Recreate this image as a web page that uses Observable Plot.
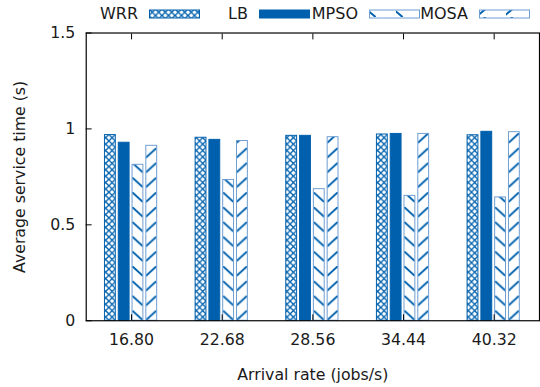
<!DOCTYPE html>
<html><head><meta charset="utf-8">
<script src="https://cdn.jsdelivr.net/npm/d3@7"></script>
<script src="https://cdn.jsdelivr.net/npm/@observablehq/plot@0.6"></script>
<style>
html,body{margin:0;padding:0;background:#fff;overflow:hidden;width:540px;height:387px}
#wrap{position:relative;width:540px;height:387px;overflow:hidden}
#wrap > svg{position:absolute;left:0;top:0}
#legend{position:absolute;left:90px;top:3px;height:22px;display:flex;align-items:center;font-family:"DejaVu Sans";font-size:16px;color:#1a1a1a;z-index:1}
#legend .lab{width:48px;text-align:right;white-space:nowrap;line-height:22px}
#legend svg{margin-left:11px;display:block}
</style></head><body>
<svg width="0" height="0" style="position:absolute">
  <defs>
    <pattern id="p-wrr" patternUnits="userSpaceOnUse" width="6.5" height="6.5">
      <path d="M0,0L6.5,6.5M6.5,0L0,6.5" stroke="#0060ad" stroke-width="1.3" fill="none"/>
    </pattern>
    <pattern id="p-mpso" patternUnits="userSpaceOnUse" width="12" height="15">
      <path d="M0,0L12,10" stroke="#0060ad" stroke-width="2" fill="none"/>
    </pattern>
    <pattern id="p-mosa" patternUnits="userSpaceOnUse" width="12" height="15">
      <path d="M0,10L12,0" stroke="#0060ad" stroke-width="2" fill="none"/>
    </pattern>
    <pattern id="lp-mpso" patternUnits="userSpaceOnUse" width="27" height="8" x="0">
      <path d="M-3,0L6.6,8" stroke="#0060ad" stroke-width="2" fill="none"/>
    </pattern>
    <pattern id="lp-mosa" patternUnits="userSpaceOnUse" width="27" height="8" x="0">
      <path d="M-3,8L6.6,0" stroke="#0060ad" stroke-width="2" fill="none"/>
    </pattern>
  </defs>
</svg>
<div id="wrap"><div id="legend"></div></div>
<script>
const rates = ["16.80", "22.68", "28.56", "34.44", "40.32"];
const series = ["WRR", "LB", "MPSO", "MOSA"];
const wrr  = [0.968, 0.954, 0.964, 0.971, 0.967];
const lb   = [0.928, 0.943, 0.964, 0.974, 0.985];
const mpso = [0.813, 0.734, 0.686, 0.651, 0.643];
const mosa = [0.912, 0.937, 0.957, 0.974, 0.983];
const yTicks = [0, 0.5, 1, 1.5];
const yTickLabels = ["0", "0.5", "1", "1.5"];
const xLabel = "Arrival rate (jobs/s)";
const yLabel = "Average service time (s)";

const blue = "#0060ad";
const light = "#6f9ed2";
const valuesBySeries = {WRR: wrr, LB: lb, MPSO: mpso, MOSA: mosa};
const styleBySeries = {
  WRR: {fill: "url(#p-wrr)", stroke: blue, legendFill: "url(#p-wrr)"},
  LB: {fill: blue, stroke: blue, legendFill: blue},
  MPSO: {fill: "url(#p-mpso)", stroke: light, legendFill: "url(#lp-mpso)"},
  MOSA: {fill: "url(#p-mosa)", stroke: light, legendFill: "url(#lp-mosa)"}
};

const data = rates.flatMap((r, i) => series.map(s => ({rate: r, series: s, value: valuesBySeries[s][i]})));

const barMarks = series.map(s => Plot.barY(data.filter(d => d.series === s), {
  fx: "rate", x: "series", y: "value",
  fill: styleBySeries[s].fill, stroke: styleBySeries[s].stroke, strokeWidth: 1
}));

const plot = Plot.plot({
  width: 548, height: 387,
  marginLeft: 87, marginRight: 1, marginTop: 33, marginBottom: 62,
  style: {fontFamily: "DejaVu Sans", fontSize: "16px", color: "#1a1a1a", background: "transparent", overflow: "visible"},
  fx: {domain: rates, padding: 0},
  x: {domain: series, paddingInner: 0.2, paddingOuter: 1.1667, axis: null},
  y: {domain: [0, 1.5]},
  marks: [
    ...barMarks,
    Plot.frame({facet: "super", stroke: "#000", strokeWidth: 1.2}),
    Plot.axisY({ticks: yTicks, tickSize: 6, dx: 6, tickFormat: () => "", label: null, stroke: "#000"}),
    Plot.axisY({ticks: yTicks, tickSize: 0, tickPadding: 11, fontSize: 16,
      tickFormat: d => yTickLabels[yTicks.indexOf(d)],
      label: yLabel, labelAnchor: "center", labelArrow: "none", labelOffset: 74}),
    Plot.axisFx({anchor: "bottom", tickSize: 6, dy: -6, tickFormat: () => "", label: null, stroke: "#000"}),
    Plot.axisFx({anchor: "top", tickSize: 6, dy: 6, tickFormat: () => "", label: null, stroke: "#000"}),
    Plot.axisFx({anchor: "bottom", tickSize: 0, tickPadding: 13, fontSize: 16,
      label: xLabel, labelAnchor: "center", labelArrow: "none", labelOffset: 60})
  ]
});
document.getElementById("wrap").appendChild(plot);

// align the stripe patterns with the bars drawn by Plot
for (const [s, id] of [["MPSO", "p-mpso"], ["MOSA", "p-mosa"]]) {
  const rect = plot.querySelector(`g[fill="url(#${id})"] rect`);
  if (rect) {
    const p = document.getElementById(id);
    const x = +rect.getAttribute("x"), w = +rect.getAttribute("width");
    p.setAttribute("x", x);
    p.setAttribute("width", w);
    p.querySelector("path").setAttribute("d", s === "MPSO" ? `M0,0L${w},10` : `M0,10L${w},0`);
  }
}

// legend
const legend = d3.select("#legend");
for (const s of series) {
  legend.append("div").attr("class", "lab").text(s);
  const sv = legend.append("svg").attr("width", 51).attr("height", 10);
  sv.append("rect").attr("x", 0.5).attr("y", 1).attr("width", 50).attr("height", 8)
    .attr("fill", styleBySeries[s].legendFill).attr("stroke", s === "WRR" || s === "LB" ? blue : light).attr("stroke-width", 1);
}
</script>
</body></html>
